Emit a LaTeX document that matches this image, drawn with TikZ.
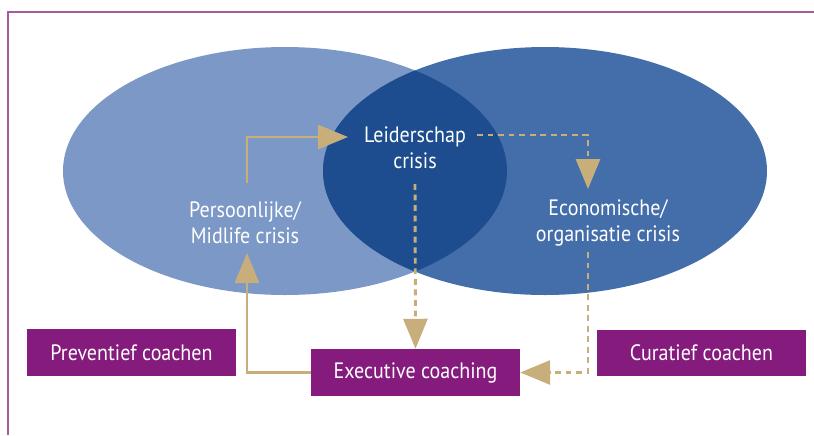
\documentclass[tikz,border=0pt]{standalone}
\usepackage{fontspec}
\setmainfont{PT Sans}[FakeStretch=0.9]
\usetikzlibrary{arrows.meta,positioning}
\definecolor{leftblue}{HTML}{7B98C7}
\definecolor{rightblue}{HTML}{446EAA}
\definecolor{darkblue}{HTML}{1D4D8E}
\definecolor{coachpurple}{HTML}{851B7C}
\definecolor{framepurple}{HTML}{A65BA1}
\definecolor{gold}{HTML}{C8AE7A}
\tikzset{
  crisis/.style={text=white,align=center,inner sep=0pt,font=\fontsize{19}{22}\selectfont},
  coachbox/.style={fill=coachpurple,text=white,inner sep=0pt,font=\fontsize{19}{20}\selectfont},
  flow/.style={draw=gold,line width=2.5pt,-{Triangle[length=0.9cm,width=0.72cm]}},
  dottedflow/.style={flow,dash pattern=on 5pt off 4pt}
}
\begin{document}
\begin{tikzpicture}[x=0.03cm,y=-0.03cm]
\useasboundingbox (0,0) rectangle (814,435);
\draw[framepurple,line width=1pt] (8,435) -- (8,12) -- (814,12);

\fill[leftblue] (285,171) ellipse [x radius=222, y radius=124];
\fill[rightblue] (545,171) ellipse [x radius=222, y radius=124];
\begin{scope}
  \clip (285,171) ellipse [x radius=222, y radius=124];
  \fill[darkblue] (545,171) ellipse [x radius=222, y radius=124];
\end{scope}

\node[crisis] (leider) at (415,148) {Leiderschap\\crisis};
\node[crisis] (persoon) at (245,223) {Persoonlijke/\\Midlife crisis};
\node[crisis] (econ) at (608,223) {Economische/\\organisatie crisis};

\node[coachbox,minimum width=209*0.03cm,minimum height=47*0.03cm] (prev) at (131.5,352.5) {Preventief coachen};
\node[coachbox,minimum width=209*0.03cm,minimum height=47*0.03cm] (exec) at (415.5,372.5) {Executive coaching};
\node[coachbox,minimum width=209*0.03cm,minimum height=46*0.03cm] (cur) at (701.5,353) {Curatief coachen};

\coordinate (p1) at (247,183);
\coordinate (p2) at (348,137);
\coordinate (l1) at (477,135);
\coordinate (e1) at (588,189);
\coordinate (l2) at (415,184);
\coordinate (e2) at (588,252);
\coordinate (p3) at (247,253);

\draw[flow] (p1) |- (p2);
\draw[dottedflow] (l1) -| (e1);
\draw[dottedflow] (l2) -- (exec.north);
\draw[dottedflow] (e2) |- (exec.east);
\draw[flow] (exec.west) -| (p3);
\end{tikzpicture}
\end{document}
